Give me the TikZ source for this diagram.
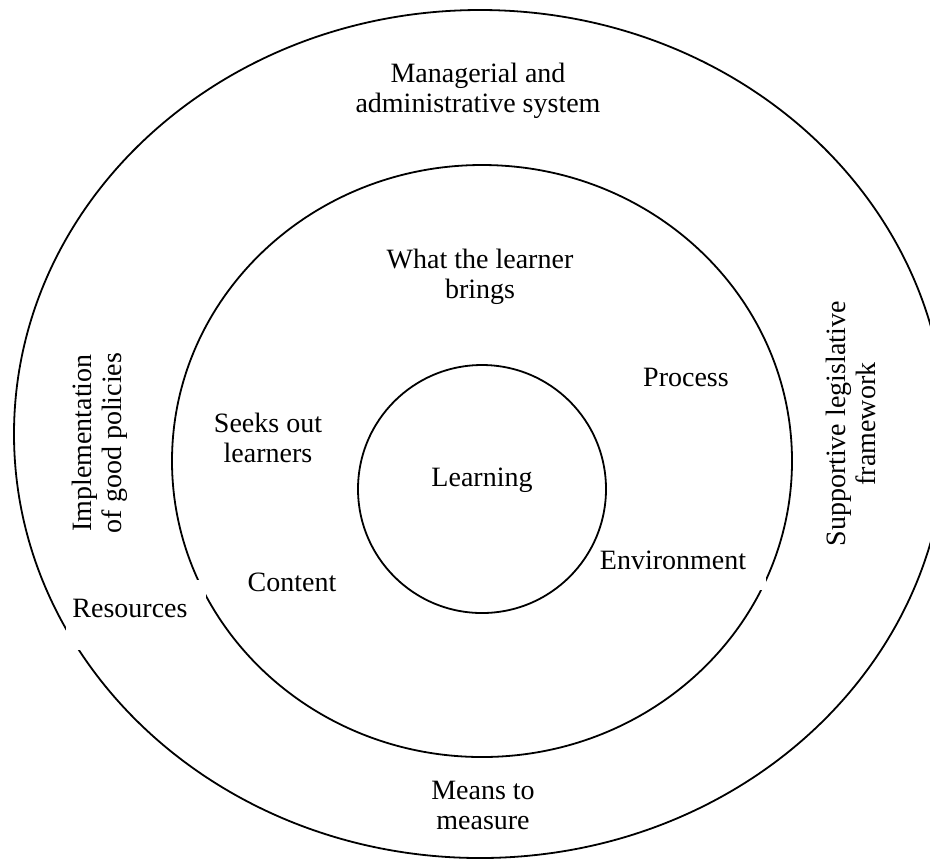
\documentclass[tikz,border=0pt]{standalone}
\usepackage{fontspec}
\setmainfont{Liberation Serif}
\usepackage{tikz}
\usetikzlibrary{positioning}
\tikzset{
  ring/.style={line width=0.9pt},
  gap/.style={fill=white},
  lbl/.style={font=\fontsize{14}{15}\selectfont,align=center,inner sep=0pt},
  side/.style={lbl,rotate=90}
}

\begin{document}
\begin{tikzpicture}[x=0.5pt,y=-0.5pt]
  % Page window
  \useasboundingbox (0,0) rectangle (930,859);

  % Rings
  \draw[ring] (480,434) ellipse [x radius=466, y radius=424]; % outer
  \draw[ring] (482,461) ellipse [x radius=310, y radius=296]; % middle
  \draw[ring] (482,489) circle [radius=124];                  % core

  % Breaks in the rings behind two labels
  \fill[gap] (66,580) rectangle (206,650);
  \fill[gap] (600,534) rectangle (766,590);

  % Outer ring
  \node[lbl] (managerial) at (478,91) {Managerial and\\administrative system};
  \node[side] (policies) at (100,443) {Implementation\\of good policies};
  \node[side] (framework) at (851,424) {Supportive legislative\\framework};
  \node[lbl] (resources) at (130,608) {Resources};
  \node[lbl] (measure) at (483,805) {Means to\\measure};

  % Middle ring
  \node[lbl] (brings) at (480,277) {What the learner\\brings};
  \node[lbl] (seeks) at (268,438) {Seeks out\\learners};
  \node[lbl] (process) at (686,377) {Process};
  \node[lbl] (content) at (292,582) {Content};
  \node[lbl] (environment) at (673,560) {Environment};

  % Core
  \node[lbl] (learning) at (482,480) {Learning};
\end{tikzpicture}
\end{document}
